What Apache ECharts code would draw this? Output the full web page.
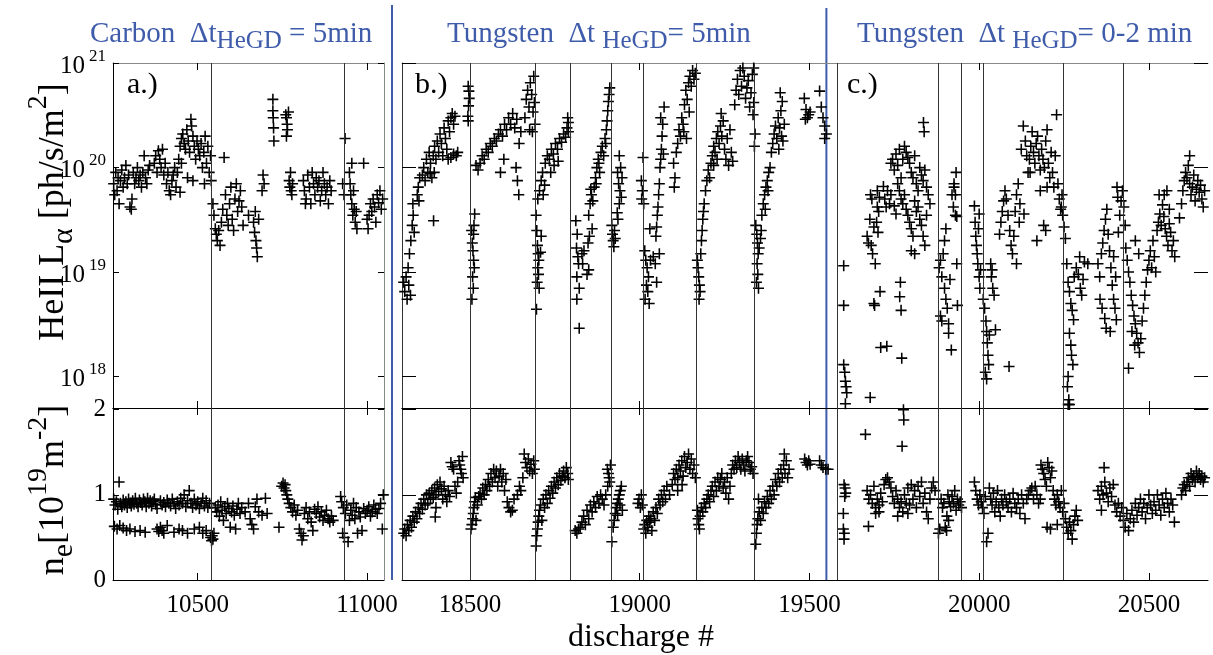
<!DOCTYPE html>
<html>
<head>
<meta charset="utf-8">
<script src="https://cdn.jsdelivr.net/npm/echarts@6/dist/echarts.min.js"></script>
<style>
html, body { margin: 0; padding: 0; background: #fff; }
#main { width: 1213px; height: 655px; }
</style>
</head>
<body>
<div id="main"></div>
<script>
// shots where a HeGD was done (vertical lines)
var hegdCarbon = [10541, 10932];
var hegdTungsten = [18500, 18692, 18795, 18916, 19010, 19167, 19338, 19582, 19879, 19947, 20012, 20247, 20424];
var separatorShot = 19550;   // 5 min -> 0-2 min HeGD interval

var ticksCarbon = [10500, 11000];
var ticksTungsten = [18500, 19000, 19500, 20000, 20500];
var ticksLa = [1e18, 1e19, 1e20, 1e21];
var ticksNe = [0, 1, 2];

// HeII L-alpha [ph/s/m2], carbon wall
var laCarbon = [
  [10252,7e19],[10255,5.5e19],[10258,9e19],[10262,6e19],[10265,8e19],[10268,4.5e19],[10272,7.5e19],[10276,9.5e19],[10280,6.5e19],[10284,8e19],
  [10288,1.05e20],[10292,7e19],[10296,8.5e19],[10300,4.2e19],[10304,4e19],[10306,5e19],[10310,9e19],[10314,7e19],[10318,8e19],[10322,1e20],
  [10326,7.5e19],[10330,8.5e19],[10334,6.5e19],[10338,9e19],[10342,1.3e20],[10346,8e19],[10350,7e19],[10354,9.5e19],[10358,1.05e20],
  [10372,1.1e20],[10376,1.3e20],[10380,9e19],[10384,1.45e20],[10388,1.2e20],[10392,1e20],[10396,1.5e20],[10400,8.5e19],[10404,1.1e20],[10408,7e19],
  [10412,9e19],[10416,6e19],[10420,5.5e19],[10424,7.5e19],[10428,8.5e19],[10432,1e20],[10436,6.5e19],[10440,9e19],[10444,1.2e20],[10448,5.8e19],[10452,1.1e20],
  [10448,1.6e20],[10452,1.9e20],[10456,2.1e20],[10460,1.7e20],[10464,1.5e20],[10468,2.3e20],[10472,1.8e20],[10476,1.4e20],[10480,2.9e20],[10482,2.5e20],
  [10486,2e20],[10490,1.6e20],[10494,1.2e20],[10498,1.8e20],[10502,1.5e20],[10506,1.3e20],[10510,1.7e20],[10514,1e20],[10518,1.4e20],[10522,2e20],
  [10526,1.1e20],[10530,1.6e20],[10534,9e19],[10538,1.3e20],[10540,7.5e19],[10470,8e19],[10486,7.5e19],[10520,7e19],
  [10545,4.5e19],[10548,3.5e19],[10552,2.6e19],[10555,2.3e19],[10558,2e19],[10562,2.5e19],[10566,1.8e19],[10570,3e19],[10574,4e19],[10578,1.25e20],
  [10582,5.5e19],[10586,3.5e19],[10590,2.8e19],[10594,4.5e19],[10598,6.5e19],[10602,3.2e19],[10606,2.5e19],[10610,5e19],[10614,7e19],[10618,3.8e19],
  [10622,4.8e19],[10626,6e19],[10630,4.2e19],[10634,2.8e19],[10650,3.5e19],[10665,3e19],[10668,2.4e19],[10670,3.8e19],[10672,2e19],[10674,1.7e19],
  [10676,1.4e19],[10680,3.2e19],[10690,6e19],[10693,8.5e19],[10696,7e19],
  [10722,4.5e20],[10722,3.5e20],[10723,3e20],[10724,2.4e20],[10725,1.8e20],
  [10760,3.2e20],[10762,3e20],[10764,2.6e20],[10765,2.3e20],[10762,2e20],[10768,3.4e20],
  [10770,7.5e19],[10772,6.5e19],[10774,9e19],[10776,6e19],[10778,5.5e19],[10780,7e19],
  [10812,7.5e19],[10815,6e19],[10818,4.5e19],[10820,5e19],[10825,8.5e19],[10830,6.5e19],[10834,4.5e19],[10838,9e19],[10842,7e19],[10846,5.5e19],
  [10850,8e19],[10854,6.5e19],[10858,7.5e19],[10862,4.8e19],[10866,6e19],[10870,9e19],[10874,7e19],[10878,5.5e19],[10882,6.5e19],[10886,4.5e19],
  [10890,7.5e19],[10894,6e19],
  [10935,1.9e20],[10928,7e19],[10932,5.5e19],
  [10948,9e19],[10950,7e19],[10952,5.5e19],[10955,4.5e19],[10958,3.5e19],[10960,6e19],[10962,4e19],[10965,3e19],[10968,3.8e19],[10970,2.6e19],[10955,1.1e20],
  [10990,1.1e20],[11000,3.2e19],[11003,2.6e19],[11006,3.5e19],[11010,4.5e19],[11014,3.8e19],[11018,5e19],[11022,4.2e19],[11026,3e19],[11030,5.5e19],
  [11034,4.6e19],[11038,6e19],[11042,4e19],[11046,5e19]
];

// line integrated density [1e19 m-2], carbon wall
var neCarbon = [
  [10252,0.95],[10256,0.88],[10260,0.92],[10264,0.83],[10268,1.15],[10272,0.9],[10276,0.86],[10280,0.94],[10284,0.88],[10288,0.92],
  [10292,0.85],[10296,0.95],[10300,0.9],[10304,0.87],[10308,0.93],[10312,0.89],[10316,0.96],[10320,0.9],[10324,0.86],[10328,0.94],
  [10332,0.91],[10336,0.88],[10340,0.95],[10344,0.92],[10348,0.86],[10352,0.96],[10356,0.9],[10360,0.93],[10364,0.87],[10368,0.92],
  [10372,0.95],[10376,0.89],[10380,0.84],[10390,0.93],[10395,0.88],[10400,0.91],[10405,0.86],[10410,0.94],[10415,0.9],[10420,0.87],
  [10425,0.95],[10430,0.9],[10435,0.84],[10440,0.92],[10445,0.88],[10450,0.96],[10455,0.9],[10460,1.0],[10465,0.86],[10470,0.93],
  [10475,1.05],[10480,0.9],[10485,0.85],[10490,0.95],[10495,0.88],[10500,0.92],[10505,0.84],[10510,0.9],[10515,0.96],[10520,0.87],
  [10525,0.93],[10530,0.85],[10535,0.9],
  [10254,0.63],[10262,0.6],[10270,0.64],[10280,0.61],[10290,0.58],[10300,0.6],[10315,0.57],[10330,0.58],[10345,0.56],[10380,0.6],
  [10385,0.57],[10390,0.62],[10395,0.58],[10400,0.55],[10410,0.64],[10430,0.56],[10445,0.6],[10455,0.58],[10470,0.55],[10490,0.6],
  [10505,0.62],[10515,0.55],[10525,0.58],
  [10538,0.5],[10541,0.46],[10543,0.52],[10545,0.48],[10548,0.55],
  [10552,0.85],[10556,0.8],[10560,0.88],[10564,0.75],[10568,0.92],[10572,0.82],[10576,0.7],[10580,0.86],[10584,0.78],[10588,0.9],
  [10592,0.84],[10596,0.62],[10600,0.8],[10604,0.87],[10608,0.76],[10612,0.6],[10616,0.83],[10620,0.9],[10625,0.78],[10630,0.85],
  [10640,0.8],[10650,0.9],[10655,0.72],[10660,0.65],[10665,0.6],[10670,0.86],[10675,0.95],[10680,0.8],[10690,0.76],[10700,0.96],[10705,0.78],
  [10748,1.1],[10752,1.14],[10755,1.08],[10758,1.12],[10760,1.05],[10763,1.0],[10766,0.95],[10740,0.62],
  [10770,0.9],[10775,0.85],[10780,0.8],[10785,0.88],[10790,0.76],[10795,0.82],[10800,0.6],[10805,0.55],[10808,0.47],[10812,0.52],
  [10815,0.78],[10820,0.85],[10825,0.72],[10830,0.8],[10835,0.68],[10840,0.58],[10845,0.83],[10850,0.78],[10855,0.86],[10860,0.74],
  [10865,0.8],[10870,0.7],[10875,0.76],[10880,0.82],[10885,0.72],[10890,0.68],[10895,0.75],[10900,0.7],
  [10922,0.98],[10925,0.92],[10928,0.55],[10930,0.85],[10933,0.5],[10936,0.78],[10940,0.88],[10944,0.45],[10948,0.7],[10952,0.82],
  [10956,0.76],[10960,0.9],[10964,0.72],[10968,0.85],[10972,0.55],[10976,0.8],[10980,0.74],[10985,0.58],[10990,0.84],[10995,0.78],
  [11000,0.82],[11005,0.86],[11010,0.75],[11015,0.8],[11020,0.88],[11025,0.83],[11030,0.78],[11035,0.84],[11040,0.9],[11045,0.6],[11048,1.0]
];

// HeII L-alpha, tungsten wall, HeGD every 5 min
var laTungsten5 = [
  [18305,8e18],[18308,6.5e18],[18312,9e18],[18315,5.5e18],[18318,1.1e19],[18320,7.5e18],[18325,6e18],
  [18322,1.5e19],[18326,2e19],[18330,2.8e19],[18333,3.5e19],[18336,2.4e19],[18332,4.5e19],
  [18345,5.5e19],[18348,6.5e19],[18352,8e19],[18350,4.8e19],
  [18360,8.5e19],[18364,1e20],[18368,7.5e19],[18372,1.2e20],[18376,9e19],[18380,1.4e20],[18384,1.1e20],[18388,8e19],[18392,1.3e20],[18396,1.6e20],
  [18400,1.2e20],[18404,1.8e20],[18408,1.4e20],[18412,2.1e20],[18416,1.7e20],[18420,1.3e20],[18424,2.4e20],[18428,1.9e20],[18432,1.5e20],[18436,2.8e20],
  [18440,2.2e20],[18444,3e20],[18448,3.3e20],[18452,2.6e20],[18456,3.1e20],[18436,1.2e20],[18444,1.25e20],[18452,1.35e20],[18460,1.3e20],[18464,1.4e20],
  [18393,3.1e19],[18383,8.8e19],[18395,9e19],
  [18495,6e20],[18497,5.4e20],[18498,4.6e20],[18496,3.9e20],[18494,3.1e20],[18495,2.8e20],
  [18505,2.5e19],[18507,1.9e19],[18509,1.6e19],[18511,1.3e19],[18513,1.1e19],[18508,9e18],[18510,7e18],[18506,5.5e18],[18512,2.8e19],[18514,3.6e19],[18511,2.3e19],
  [18518,1.05e20],[18524,9.5e19],
  [18530,1.1e20],[18536,1.3e20],[18542,1.2e20],[18548,1.5e20],[18554,1.4e20],[18560,1.7e20],[18566,1.6e20],[18572,1.9e20],[18578,1.8e20],[18584,2.1e20],
  [18590,2.3e20],[18596,2e20],[18602,2.6e20],[18608,2.3e20],[18614,3e20],[18620,2.6e20],[18626,3.3e20],[18632,2.4e20],[18638,2.9e20],[18590,9e19],
  [18600,1.2e20],[18636,1e20],[18640,7.5e19],[18644,5.5e19],[18645,1.7e20],[18650,2.2e20],
  [18662,3e20],[18666,4.5e20],[18670,5.5e20],[18674,3.8e20],[18678,6.5e20],[18682,5e20],[18686,3.4e20],[18688,7.5e20],[18690,4.2e20],[18692,2.6e20],[18684,2.2e20],[18676,2.3e20],
  [18695,3.5e19],[18697,2.5e19],[18699,1.8e19],[18701,1.5e19],[18703,1.3e19],[18700,1.1e19],[18702,9.5e18],[18698,8e18],[18704,7e18],[18696,4.4e18],[18708,1.55e19],[18710,2.2e19],
  [18700,5e19],[18705,6e19],[18710,7.5e19],[18714,9e19],[18716,5.5e19],[18720,6.8e19],
  [18722,1.1e20],[18728,1.3e20],[18734,1.2e20],[18740,1.5e20],[18746,1.35e20],[18752,1.7e20],[18758,1.5e20],[18764,1.9e20],[18770,1.75e20],[18776,2.1e20],
  [18782,1.95e20],[18786,2.4e20],[18790,2.2e20],[18788,3e20],[18790,2.7e20],[18748,1.05e20],[18760,1.15e20],[18738,9e19],
  [18812,3.1e19],[18816,2.3e19],[18814,1.7e19],[18818,1.4e19],[18820,1.2e19],[18815,9e18],[18822,7e18],[18815,5.5e18],[18822,2.9e18],[18830,1.5e19],
  [18832,1.2e19],[18836,1.6e19],[18845,9.5e18],[18850,1.05e19],
  [18850,3.5e19],[18854,4.5e19],[18858,5.5e19],[18862,4.8e19],[18856,6.2e19],[18860,2.6e19],[18852,2.2e19],[18848,1.9e19],
  [18866,6.5e19],[18870,8e19],[18874,1e20],[18878,1.2e20],[18882,9e19],[18886,1.4e20],[18890,1.6e20],[18894,1.3e20],[18898,1.9e20],[18902,2.3e20],
  [18904,2.8e20],[18906,3.5e20],[18908,4.3e20],[18910,5e20],[18912,5.8e20],[18900,1.7e20],[18880,1.1e20],[18872,7e19],
  [18918,2.8e19],[18920,2.3e19],[18922,2e19],[18924,1.75e19],[18926,2.5e19],[18928,2.1e19],
  [18935,9e19],[18938,7e19],[18940,1.3e20],[18942,6e19],[18944,1e20],[18946,5.2e19],[18948,8e19],[18940,4.5e19],[18934,3.7e19],[18936,3.2e19],
  [19005,7.5e19],[19008,6e19],[19006,5e19],[19012,4.5e19],[19010,1.25e20],
  [19015,1.6e19],[19018,1.3e19],[19022,1.1e19],[19026,9e18],[19020,7.5e18],[19024,6.5e18],[19016,5.5e18],[19028,5e18],[19032,1.3e19],[19040,1.4e19],
  [19046,1.2e19],[19050,8e18],[19058,1.5e19],[19030,2.6e19],
  [19048,2.2e19],[19050,2.7e19],[19052,3.5e19],[19054,4.2e19],[19056,5.5e19],[19058,7e19],[19060,1e20],[19062,1.2e20],[19064,1.5e20],[19066,2e20],
  [19062,3e20],[19068,2.6e20],[19070,1.35e20],[19072,3.8e20],
  [19100,1.1e20],[19104,8e19],[19108,1.4e20],[19112,1.7e20],[19116,2.3e20],[19120,2e20],[19124,3e20],[19128,2.6e20],[19132,4e20],[19136,5.5e20],
  [19140,4.5e20],[19144,6.5e20],[19148,7.5e20],[19152,6e20],[19156,8.5e20],[19160,7e20],[19164,8e20],[19130,2.2e20],[19138,1.9e20],[19146,3.4e20],[19102,6.5e19],
  [19170,1.3e19],[19172,1.1e19],[19174,9e18],[19176,7.5e18],[19178,6.5e18],[19180,1.5e19],[19182,2e19],[19184,2.5e19],[19186,3.2e19],[19188,3.8e19],[19175,5.5e18],
  [19190,4.5e19],[19194,6e19],[19198,7.5e19],[19202,9.5e19],[19206,8e19],[19210,1.1e20],[19214,1.3e20],[19218,1.6e20],[19222,1.4e20],[19226,1.9e20],
  [19230,2.2e20],[19234,1.7e20],[19238,2.5e20],[19242,2e20],[19246,2.8e20],[19250,1.5e20],[19254,1.2e20],[19258,1.9e20],[19262,1.05e20],[19266,2.3e20],
  [19270,1.4e20],[19274,1.15e20],[19218,1.05e20],[19228,1.2e20],[19240,3.3e20],
  [19280,4e20],[19284,5.5e20],[19288,7e20],[19292,5e20],[19296,8.5e20],[19300,6e20],[19304,9e20],[19308,7.5e20],[19312,4.6e20],[19316,5.8e20],
  [19320,6.8e20],[19324,3.8e20],[19328,5.2e20],[19332,7.8e20],[19336,4.2e20],[19334,3.2e20],[19338,1.6e20],[19340,2.1e20],[19336,9e20],
  [19342,2.8e19],[19345,2.3e19],[19347,1.9e19],[19349,1.5e19],[19346,1.2e19],[19348,9.5e18],[19344,8e18],[19350,7e18],[19352,1.7e19],[19356,2.1e19],[19358,2.5e19],
  [19360,3.5e19],[19364,4.5e19],[19368,5.5e19],[19372,6.5e19],[19376,7.5e19],[19380,9e19],[19384,1e20],[19378,6e19],[19370,4e19],
  [19388,1.4e20],[19392,1.7e20],[19396,2.1e20],[19400,2.5e20],[19404,1.9e20],[19408,3e20],[19412,2.4e20],[19416,3.5e20],[19420,4.3e20],[19414,5.2e20],
  [19418,2e20],[19410,1.5e20],[19422,1.8e20],[19426,2.6e20],
  [19485,4.6e20],[19490,3.6e20],[19494,3e20],[19498,3.2e20],[19502,3.4e20],[19488,2.9e20],
  [19530,5.4e20],[19535,3.8e20],[19540,3e20],[19545,2.5e20],[19550,2.1e20],[19545,1.9e20]
];

// HeII L-alpha, tungsten wall, HeGD every 0-2 min
var laTungsten02 = [
  [19601,1.3e18],[19604,1.1e18],[19606,9e17],[19608,8e17],[19610,7e17],[19606,5.5e17],[19601,1.15e19],[19601,4.8e18],
  [19670,2.2e19],[19674,1.9e19],[19678,3.2e19],[19682,1.8e19],[19686,1.5e19],[19690,2.7e19],[19694,1.2e19],[19690,5e18],[19700,4.2e19],[19704,3.8e19],
  [19698,3e19],[19706,5.2e19],[19692,4.8e18],[19702,2.4e19],[19708,6.5e18],[19710,1.9e18],[19680,5.5e19],[19684,5e19],[19700,6e19],[19679,6.3e17],
  [19718,6.6e19],[19722,5e19],[19726,4.2e19],[19730,6e19],[19736,4.5e19],[19740,5.5e19],[19728,1.95e18],
  [19768,8e18],[19766,5.8e18],[19770,4.3e18],[19772,1.5e18],
  [19740,1.1e20],[19745,1.2e20],[19750,9.5e19],[19755,1.35e20],[19760,1.05e20],[19765,1.5e20],[19770,8e19],[19775,1.2e20],[19780,1.6e20],[19785,1.4e20],
  [19790,1.25e20],[19795,1.1e20],[19800,9e19],[19805,8e19],[19810,1.3e20],[19815,7e19],[19820,6e19],[19825,1e20],[19830,8.5e19],[19835,7.5e19],
  [19840,9.5e19],[19845,6.5e19],[19850,5.5e19],[19855,4.5e19],[19760,7e19],[19765,6e19],[19770,5e19],[19775,4.5e19],[19780,5.5e19],[19785,4e19],
  [19790,3.5e19],[19795,3e19],[19800,2.6e19],[19805,2.2e19],[19810,4.8e19],[19815,3.8e19],[19820,4.2e19],[19825,3.2e19],[19830,2.8e19],[19835,2.2e19],
  [19840,1.8e19],[19845,3.5e19],[19750,4.3e19],[19755,3.6e19],[19800,1.6e19],[19810,1.5e19],[19836,2.7e20],[19838,2.2e20],
  [19882,1.1e19],[19886,1.3e19],[19890,9e18],[19894,1.5e19],[19898,2e19],[19902,2.6e19],[19898,7e18],[19902,5.5e18],[19906,4.5e18],[19910,3.2e18],
  [19886,3.8e18],[19890,3.4e18],[19910,2.6e18],[19914,8.5e18],[19918,1.8e18],[19920,5.5e19],[19924,4.2e19],[19926,6.5e19],[19930,3.5e19],[19932,9e19],
  [19934,1.2e19],[19936,4.8e18],[19926,7e19],[19930,5.5e19],[19934,3.4e19],
  [19986,4.3e19],[19988,3e19],[19990,2.2e19],[19992,1.8e19],[19994,1.5e19],[19996,1.2e19],[20000,9e18],[20002,7e18],[20004,1.05e19],[19998,2.6e19],[20000,3.6e19],
  [20012,5.5e18],[20016,4.5e18],[20020,3.4e18],[20022,2.7e18],[20024,2.1e18],[20026,1.6e18],[20028,1.3e18],[20018,1.1e18],[20022,9.5e17],[20030,2.5e18],
  [20036,9e18],[20040,7e18],[20044,6e18],[20034,1.2e19],[20038,1.05e19],[20048,2.8e18],[20060,2.3e19],[20064,3e19],[20068,3.8e19],[20072,4.8e19],
  [20076,6e19],[20080,5e19],[20085,3.5e19],[20090,2.5e19],[20094,1.8e19],[20098,1.5e19],[20102,2.2e19],[20106,3.8e19],[20110,5.5e19],[20115,7e19],
  [20120,4.5e19],[20118,3e19],[20110,1.2e19],[20088,1.25e18],[20132,3.6e19],
  [20124,1.5e20],[20130,2.5e20],[20136,1.8e20],[20140,1.3e20],[20144,9e19],[20148,1.2e20],[20152,1.6e20],[20156,2.2e20],[20160,1.4e20],[20164,1.1e20],
  [20168,1.7e20],[20172,2e20],[20176,1.3e20],[20180,9.5e19],[20184,1.5e20],[20188,1.2e20],[20192,1e20],[20196,1.8e20],[20200,2.3e20],[20204,1.1e20],
  [20208,8e19],[20212,1.4e20],[20216,9e19],[20220,6.5e19],[20224,1.3e20],[20228,3.2e20],[20232,7e19],[20236,5e19],[20240,4e19],[20244,5.5e19],
  [20200,6.5e19],[20180,6e19],[20150,9e19],[20190,2.8e19],[20196,2.5e19],[20170,2e19],
  [20242,4.2e19],[20246,3.5e19],[20250,2.7e19],[20254,2.1e19],
  [20258,1.2e19],[20262,8e18],[20266,6.5e18],[20270,5e18],[20274,4.3e18],[20278,3.5e18],[20266,2.6e18],[20270,2e18],[20272,1.6e18],[20276,1.3e18],
  [20262,1e18],[20260,8e17],[20264,6e17],[20280,9e18],[20286,1.1e19],[20292,9.5e18],[20298,7e18],[20302,6e18],[20306,8.5e18],[20310,1.25e19],
  [20296,1.4e19],[20320,1.2e19],[20262,5.4e17],[20264,5.4e17],[20266,5.4e17],
  [20350,1.2e19],[20355,9e18],[20360,1.5e19],[20364,1.9e19],[20368,2.5e19],[20372,3.2e19],[20376,4e19],[20380,2.3e19],[20384,1.6e19],[20388,1.1e19],
  [20392,7.5e18],[20396,5.5e18],[20400,4.5e18],[20404,3.5e18],[20410,2.4e19],[20414,3.5e19],[20418,4.8e19],[20422,6e19],[20426,4.2e19],[20430,2.8e19],
  [20356,5.5e18],[20362,4.5e18],[20370,3.6e18],[20374,2.9e18],[20386,2.7e18],[20396,1.4e19],[20402,9e18],[20406,6.5e19],[20408,5.2e19],
  [20432,1.7e19],[20436,1.3e19],[20440,1e19],[20444,8e18],[20448,6e18],[20452,4.8e18],[20456,3.8e18],[20460,3.2e18],[20464,2.6e18],[20468,2.1e18],
  [20472,1.7e18],[20476,2.3e18],[20480,3.4e18],[20484,4.5e18],[20488,6e18],[20492,8e18],[20496,1.05e19],[20500,1.3e19],[20504,1.6e19],[20508,1.1e19],
  [20512,2e19],[20516,1.4e19],[20520,1e19],[20440,1.2e18],[20460,2e19],[20470,1.5e19],[20450,2.7e18],[20458,2e18],
  [20524,2.5e19],[20528,3e19],[20532,3.6e19],[20536,2.8e19],[20540,4.4e19],[20544,3.4e19],[20548,2.6e19],[20552,2.2e19],[20556,1.8e19],[20560,2.9e19],
  [20564,2.4e19],[20568,1.6e19],[20572,2e19],[20576,1.4e19],[20530,5.5e19],[20545,5.5e19],[20560,4e19],[20553,6e19],
  [20596,4.5e19],[20600,6e19],[20604,7.5e19],[20608,9e19],[20612,8e19],[20616,1.05e20],[20620,7e19],[20624,5.5e19],[20628,6.5e19],[20632,8.5e19],
  [20636,4.8e19],[20640,6.2e19],[20644,7.5e19],[20648,5.8e19],[20652,6.8e19],[20656,5e19],[20660,4.2e19],[20664,6e19],[20590,3.3e19],[20620,1.3e20]
];

// line integrated density, tungsten wall, HeGD every 5 min
var neTungsten5 = [
  [18305,0.55],[18308,0.6],[18312,0.52],[18316,0.65],[18320,0.58],[18324,0.7],[18328,0.62],[18332,0.75],[18336,0.68],[18340,0.8],
  [18344,0.72],[18348,0.85],[18352,0.78],[18356,0.9],[18360,0.83],[18364,0.95],[18368,0.88],[18372,1.0],[18376,0.9],[18380,1.02],
  [18384,0.95],[18388,1.05],[18392,0.97],[18396,1.08],[18400,1.0],[18404,1.12],[18408,1.04],[18412,1.15],[18416,1.07],[18420,0.95],
  [18424,1.1],[18428,1.0],[18432,0.92],[18436,1.05],[18440,0.98],[18444,1.38],[18448,1.33],[18452,1.3],[18456,1.1],[18460,1.02],
  [18464,1.15],[18468,1.4],[18470,1.35],[18473,1.3],[18475,1.25],[18478,1.45],[18480,1.2],[18398,0.74],[18400,0.85],
  [18503,0.6],[18506,0.65],[18508,0.72],[18510,0.78],[18512,0.85],[18514,0.92],[18516,0.97],[18518,0.7],[18522,0.88],[18526,0.98],
  [18530,1.02],[18534,0.95],[18538,1.08],[18542,1.0],[18546,1.12],[18550,1.05],[18554,1.18],[18558,1.1],[18562,1.25],[18566,1.15],
  [18570,1.3],[18574,1.2],[18578,1.28],[18582,1.1],[18586,1.22],[18590,1.3],[18594,1.15],[18598,1.25],[18602,1.05],[18606,1.18],
  [18610,0.92],[18615,0.85],[18620,0.8],[18625,0.82],[18630,0.95],[18640,1.0],[18646,1.1],[18650,1.05],[18656,1.2],[18660,1.48],
  [18664,1.38],[18668,1.32],[18672,1.42],[18676,1.28],[18680,1.36],[18684,1.25],[18688,1.4],[18690,1.3],
  [18695,0.4],[18697,0.52],[18699,0.6],[18701,0.68],[18703,0.75],[18705,0.82],[18708,0.88],[18712,0.7],[18716,0.95],[18720,0.85],
  [18724,1.0],[18728,0.9],[18732,1.05],[18736,0.96],[18740,1.1],[18744,1.02],[18748,1.15],[18752,1.08],[18756,1.2],[18760,1.12],
  [18764,1.25],[18768,1.17],[18772,1.22],[18776,1.28],[18780,1.2],[18784,1.32],[18788,1.25],[18790,1.18],
  [18810,0.58],[18815,0.55],[18820,0.6],[18825,0.62],[18830,0.68],[18835,0.75],[18840,0.65],[18845,0.82],[18850,0.72],[18855,0.88],
  [18860,0.8],[18865,0.92],[18870,0.85],[18875,0.98],[18880,0.9],[18885,1.0],[18890,0.95],[18895,0.88],[18900,1.0],[18905,1.3],
  [18908,1.25],[18910,1.2],[18912,1.15],[18914,1.35],[18906,1.1],
  [18918,0.45],[18922,0.62],[18925,0.7],[18928,0.78],[18931,0.85],[18934,0.9],[18937,0.95],[18940,1.0],[18943,1.05],[18946,1.1],
  [18949,0.82],[18935,0.76],[18942,0.88],[18995,0.9],[18998,0.95],[19002,0.85],[19005,1.0],[19008,0.88],
  [19012,0.6],[19015,0.65],[19018,0.55],[19021,0.7],[19024,0.62],[19027,0.75],[19030,0.68],[19033,0.72],[19036,0.58],[19040,0.8],
  [19044,0.7],[19048,0.85],[19052,0.78],[19056,0.95],[19060,0.88],[19064,1.0],[19068,0.92],[19072,1.05],[19076,0.95],[19080,1.1],
  [19088,1.0],[19096,1.12],[19100,1.25],[19104,1.18],[19108,1.3],[19112,1.2],[19116,1.35],[19120,1.28],[19124,1.4],[19128,1.22],
  [19132,1.45],[19136,1.32],[19140,1.38],[19144,1.48],[19148,1.3],[19152,1.42],[19156,1.25],[19160,1.35],[19164,1.2],[19112,1.05],[19125,1.12],
  [19170,0.82],[19172,0.72],[19174,0.65],[19176,0.6],[19178,0.75],[19182,0.85],[19186,0.8],[19190,0.9],[19194,0.85],[19198,0.95],
  [19202,1.0],[19206,0.92],[19210,1.05],[19214,1.1],[19218,0.98],[19222,1.15],[19226,1.05],[19230,1.2],[19234,1.1],[19238,1.18],
  [19242,1.25],[19246,1.08],[19250,1.15],[19254,1.02],[19258,1.2],[19262,0.95],[19266,1.1],[19270,1.25],[19274,1.35],[19278,1.3],
  [19282,1.4],[19286,1.32],[19290,1.45],[19294,1.38],[19298,1.3],[19302,1.42],[19306,1.35],[19310,1.28],[19314,1.4],[19318,1.45],
  [19322,1.38],[19326,1.3],[19330,1.33],[19334,1.25],
  [19342,0.42],[19344,0.55],[19346,0.65],[19348,0.72],[19350,0.95],[19352,0.8],[19356,0.7],[19360,0.85],[19364,0.78],[19368,0.92],
  [19372,0.85],[19376,0.98],[19380,0.9],[19384,1.05],[19388,0.95],[19392,1.1],[19396,1.0],[19400,1.18],[19404,1.1],[19408,1.25],
  [19412,1.15],[19416,1.3],[19420,1.2],[19424,1.35],[19428,1.25],[19432,1.4],[19426,1.48],[19436,1.2],[19440,1.3],
  [19486,1.42],[19490,1.38],[19494,1.35],[19498,1.4],[19502,1.36],[19530,1.4],[19535,1.35],[19540,1.32],[19548,1.3],[19555,1.3]
];

// line integrated density, tungsten wall, HeGD every 0-2 min
var neTungsten02 = [
  [19602,1.12],[19605,1.08],[19607,1.02],[19604,0.98],[19600,0.78],[19600,0.6],[19603,0.55],[19602,0.48],
  [19665,1.71],[19674,0.63],[19777,2.0],[19778,1.88],[19773,1.57],
  [19670,1.05],[19675,0.95],[19680,1.0],[19685,0.9],[19690,1.1],[19695,0.85],[19700,0.95],[19705,0.88],[19710,1.02],[19715,0.92],
  [19720,1.12],[19725,1.18],[19730,1.2],[19735,1.15],[19740,1.08],[19745,0.98],[19750,0.9],[19755,1.05],[19760,0.95],[19765,0.85],
  [19770,0.92],[19775,0.8],[19780,1.0],[19785,0.9],[19790,1.08],[19795,0.88],[19800,1.12],[19805,0.95],[19810,1.05],[19815,0.85],
  [19820,1.1],[19825,0.98],[19830,1.15],[19835,0.9],[19840,1.02],[19845,0.8],[19850,0.72],[19855,0.95],[19860,1.08],[19865,1.15],
  [19870,1.05],[19695,0.78],[19705,0.8],[19760,0.75],[19790,0.78],
  [19880,0.55],[19884,0.6],[19888,0.95],[19892,0.85],[19896,0.9],[19900,0.62],[19904,0.58],[19908,1.0],[19912,0.92],[19916,0.86],
  [19920,0.98],[19924,0.9],[19928,1.05],[19932,0.82],[19936,0.95],[19940,0.88],[19944,0.92],[19948,0.85],[19905,0.75],[19910,0.7],
  [19986,1.15],[19990,1.05],[19994,0.95],[19998,0.88],[20002,1.0],[20006,0.92],[20010,0.85],[20014,0.78],[20018,0.98],[20022,0.45],
  [20026,0.55],[20030,1.08],[20034,0.95],[20038,0.88],[20042,1.02],[20046,0.8],[20050,0.92],[20054,1.05],[20058,0.85],[20062,0.75],
  [20066,0.95],[20070,0.88],[20075,1.0],[20080,0.92],[20085,0.85],[20090,0.95],[20095,0.8],[20100,1.02],[20105,0.9],[20110,0.85],
  [20115,0.95],[20120,0.78],[20125,1.0],[20130,0.9],[20135,0.72],[20140,0.95],
  [20145,1.0],[20150,1.05],[20155,1.08],[20160,0.95],[20165,1.1],[20170,1.0],[20175,0.9],[20180,0.95],[20182,1.35],[20186,1.3],
  [20190,1.25],[20194,1.18],[20198,1.1],[20202,1.38],[20206,1.32],[20210,1.2],[20214,1.28],[20218,1.05],[20222,0.95],[20226,0.88],
  [20230,1.0],[20234,0.92],[20238,0.85],[20242,1.05],[20246,0.8],[20250,0.9],[20254,0.72],[20258,0.62],[20262,0.55],[20266,0.68],
  [20270,0.58],[20274,0.48],[20278,0.65],[20282,0.75],[20286,0.82],[20290,0.7],[20210,0.6],[20200,0.62],[20230,0.65],
  [20350,1.05],[20355,0.95],[20360,1.1],[20365,1.0],[20370,1.15],[20375,1.02],[20380,0.92],[20385,1.08],[20390,0.98],[20395,1.12],
  [20400,0.88],[20405,0.8],[20410,0.9],[20415,0.75],[20420,0.85],[20425,0.7],[20430,0.62],[20435,0.78],[20440,0.58],[20445,0.72],
  [20450,0.82],[20455,0.68],[20460,0.9],[20465,0.76],[20470,0.85],[20475,0.95],[20480,0.8],[20485,0.9],[20490,0.72],[20495,0.85],
  [20500,1.0],[20505,0.88],[20510,0.78],[20515,0.92],[20520,0.82],[20525,1.0],[20530,0.88],[20535,0.76],[20540,0.95],[20545,0.85],
  [20550,1.02],[20555,0.9],[20560,0.8],[20565,0.95],[20570,0.88],[20575,0.68],[20368,1.32],[20360,0.82],
  [20596,1.0],[20600,1.08],[20604,1.12],[20608,1.05],[20612,1.15],[20616,1.2],[20620,1.1],[20624,1.25],[20628,1.18],[20632,1.22],
  [20636,1.15],[20640,1.28],[20644,1.2],[20648,1.25],[20652,1.18],[20656,1.22],[20660,1.15],[20664,1.2]
];

var SERIF = '"Liberation Serif", "DejaVu Serif", serif';
var BLUE = '#3f5cab';
var PLUS = 'path://M-1,-7H1V-1H7V1H1V7H-1V1H-7V-1H-1Z';

var chart = echarts.init(document.getElementById('main'));

var grids = [
  { left: 113, top: 63, width: 271, height: 345 },
  { left: 113, top: 408, width: 271, height: 172 },
  { left: 402, top: 63, width: 806, height: 345 },
  { left: 402, top: 408, width: 806, height: 172 }
];
var xRange = [[10250, 11050], [10250, 11050], [18300, 20674], [18300, 20674]];
var xTicks = [ticksCarbon, ticksCarbon, ticksTungsten, ticksTungsten];

function xAx(g, pos, lineColor, showLabel) {
  return {
    type: 'value', gridIndex: g, position: pos,
    min: xRange[g][0], max: xRange[g][1],
    axisLine: { show: true, onZero: false, lineStyle: { color: lineColor, width: 1 } },
    axisTick: { show: true, inside: true, length: 7, customValues: xTicks[g], lineStyle: { color: '#000' } },
    axisLabel: {
      show: showLabel, customValues: xTicks[g], margin: 13,
      fontFamily: SERIF, fontSize: 25, color: '#000',
      formatter: function (v) { return String(v); }
    },
    splitLine: { show: false }
  };
}

function laLabel(v) {
  return '{b|10}{s|' + Math.round(Math.log10(v)) + '}';
}

function yAx(g, pos, lineShow, lineColor, tickLen, showLabel) {
  var top = g % 2 === 0;
  var ax = {
    gridIndex: g, position: pos,
    axisLine: { show: lineShow, onZero: false, lineStyle: { color: lineColor, width: 1 } },
    axisTick: { show: true, inside: true, length: tickLen, customValues: top ? ticksLa : ticksNe, lineStyle: { color: '#000' } },
    axisLabel: {
      show: showLabel, customValues: top ? ticksLa : ticksNe, margin: 7,
      fontFamily: SERIF, fontSize: 25, color: '#000'
    },
    splitLine: { show: false }
  };
  if (top) {
    ax.type = 'log';
    ax.logBase = 10;
    ax.min = 5e17;
    ax.max = 1.003e21;
    ax.axisLabel.formatter = laLabel;
    ax.axisLabel.rich = {
      b: { fontFamily: SERIF, fontSize: 25, color: '#000', verticalAlign: 'top', padding: [6, 0, 0, 0] },
      s: { fontFamily: SERIF, fontSize: 17, color: '#000', verticalAlign: 'top', padding: [0, 0, 0, 4] }
    };
  } else {
    ax.type = 'value';
    ax.min = 0;
    ax.max = 2.02;
  }
  return ax;
}

var xAxes = [
  xAx(0, 'top', '#888', false), xAx(0, 'bottom', '#000', false),
  xAx(1, 'top', '#000', false), xAx(1, 'bottom', '#000', true),
  xAx(2, 'top', '#888', false), xAx(2, 'bottom', '#000', false),
  xAx(3, 'top', '#000', false), xAx(3, 'bottom', '#000', true)
];
var yAxes = [
  yAx(0, 'left', true, '#000', 6, true), yAx(0, 'right', true, '#888', 6, false),
  yAx(1, 'left', true, '#000', 6, true), yAx(1, 'right', true, '#888', 6, false),
  yAx(2, 'left', true, '#333', 14, false), yAx(2, 'right', false, '#000', 14, false),
  yAx(3, 'left', true, '#333', 14, false), yAx(3, 'right', false, '#000', 14, false)
];

function hegdLines(shots) {
  return {
    silent: true, symbol: 'none', animation: false,
    label: { show: false },
    lineStyle: { color: '#333', width: 1, type: 'solid' },
    data: shots.map(function (s) { return { xAxis: s }; })
  };
}

function scatter(data, g, shots) {
  var s = {
    type: 'scatter', data: data,
    xAxisIndex: g * 2 + 1, yAxisIndex: g * 2,
    symbol: PLUS, symbolSize: 11,
    itemStyle: { color: '#000', opacity: 1 },
    silent: true, animation: false
  };
  if (shots) s.markLine = hegdLines(shots);
  return s;
}

function richText(x, y, text, rich, opts) {
  var el = {
    type: 'text', x: x, y: y, silent: true,
    style: { text: text, rich: rich, align: 'left', verticalAlign: 'middle' }
  };
  for (var k in opts) el[k] = opts[k];
  if (opts && opts.align) { el.style.align = opts.align; delete el.align; }
  return el;
}

var titleRich = {
  m: { fontFamily: SERIF, fontSize: 29, fill: BLUE, verticalAlign: 'top' },
  s: { fontFamily: SERIF, fontSize: 25, fill: BLUE, verticalAlign: 'top', padding: [9, 0, 0, 0] }
};
var axisRich = {
  m: { fontFamily: SERIF, fontSize: 36, fill: '#000', verticalAlign: 'top', padding: [11, 0, 0, 0] },
  s: { fontFamily: SERIF, fontSize: 30, fill: '#000', verticalAlign: 'top', padding: [24, 0, 0, 0] },
  p: { fontFamily: SERIF, fontSize: 28, fill: '#000', verticalAlign: 'top' }
};
var panelStyle = { fontFamily: SERIF, fontSize: 30, fill: '#000' };

function buildGraphic(sepX) {
  return [
    richText(90, 37, '{m|Carbon  Δt}{s|HeGD}{m| = 5min}', titleRich, {}),
    richText(447, 37, '{m|Tungsten  Δt }{s|HeGD}{m|= 5min}', titleRich, {}),
    richText(857, 37, '{m|Tungsten  Δt }{s|HeGD}{m|= 0-2 min}', titleRich, {}),
    richText(52, 212, '{m|HeII L}{s|α}{m| [ph/s/m}{p|2}{m|]}', axisRich, { rotation: Math.PI / 2, align: 'center' }),
    richText(52, 490, '{m|n}{s|e}{m|[10}{p|19}{m|m}{p|-2}{m|]}', axisRich, { rotation: Math.PI / 2, align: 'center' }),
    { type: 'text', x: 127, y: 85, silent: true, style: Object.assign({ text: 'a.)', verticalAlign: 'middle' }, panelStyle) },
    { type: 'text', x: 415, y: 85, silent: true, style: Object.assign({ text: 'b.)', verticalAlign: 'middle' }, panelStyle) },
    { type: 'text', x: 847, y: 85, silent: true, style: Object.assign({ text: 'c.)', verticalAlign: 'middle' }, panelStyle) },
    { type: 'text', x: 641, y: 638, silent: true, style: { text: 'discharge #', fontFamily: SERIF, fontSize: 32, fill: '#000', align: 'center', verticalAlign: 'middle' } },
    { type: 'line', silent: true, shape: { x1: 392, y1: 5, x2: 392, y2: 580 }, style: { stroke: BLUE, lineWidth: 2 } },
    { type: 'line', silent: true, shape: { x1: sepX, y1: 8, x2: sepX, y2: 580 }, style: { stroke: BLUE, lineWidth: 2 } }
  ];
}

chart.setOption({
  animation: false,
  backgroundColor: '#fff',
  grid: grids,
  xAxis: xAxes,
  yAxis: yAxes,
  series: [
    scatter(laCarbon, 0, hegdCarbon),
    scatter(neCarbon, 1, hegdCarbon),
    scatter(laTungsten5, 2, hegdTungsten),
    scatter(laTungsten02, 2, null),
    scatter(neTungsten5, 3, hegdTungsten),
    scatter(neTungsten02, 3, null)
  ]
});

var sepX = chart.convertToPixel({ xAxisIndex: 5 }, separatorShot);
chart.setOption({ graphic: buildGraphic(sepX) });
</script>
</body>
</html>
